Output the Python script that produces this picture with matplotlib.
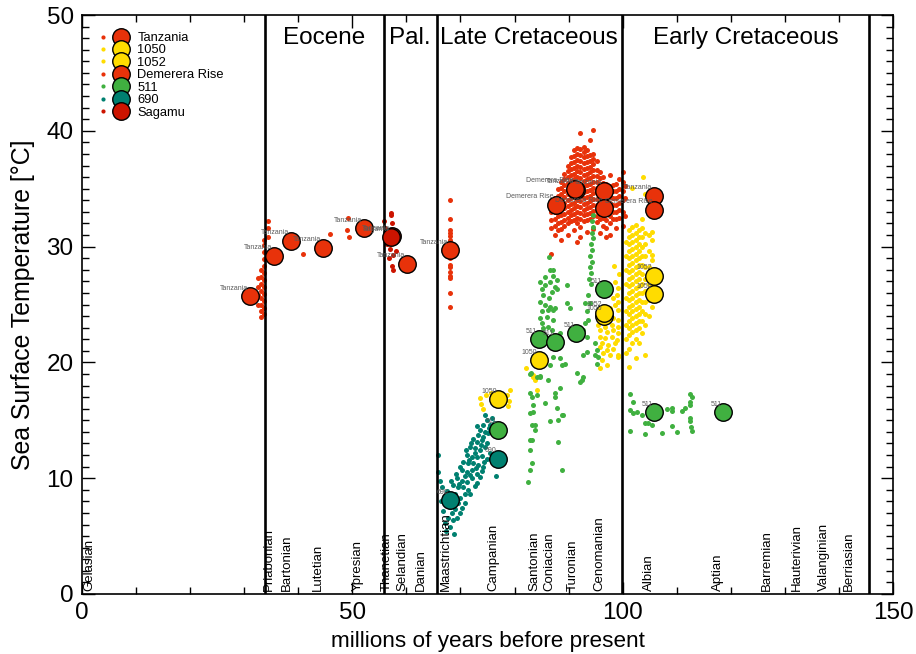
import matplotlib
matplotlib.use("Agg")
import matplotlib.pyplot as plt
from matplotlib.lines import Line2D
from matplotlib.legend_handler import HandlerTuple
from matplotlib.ticker import MultipleLocator

plt.rcParams['font.family'] = ['Liberation Sans', 'DejaVu Sans']

# ---------------------------------------------------------------- sites
sites = ["Tanzania", "1050", "1052", "Demerera Rise", "511", "690", "Sagamu"]
site_colors = {
    "Tanzania": "#e8320a",
    "1050": "#ffdc00",
    "1052": "#ffdc00",
    "Demerera Rise": "#e8320a",
    "511": "#40b040",
    "690": "#008070",
    "Sagamu": "#cc1400",
}

# ---------------------------------------------------------------- time scale
epoch_bounds = [33.9, 55.8, 65.6, 99.8, 145.6]
epoch_names = ["Eocene", "Pal.", "Late Cretaceous", "Early Cretaceous"]
stage_names = ["Gelasian", "Priabonian", "Bartonian", "Lutetian", "Ypresian",
               "Thanetian", "Selandian", "Danian", "Maastrichtian", "Campanian",
               "Santonian", "Coniacian", "Turonian", "Cenomanian", "Albian",
               "Aptian", "Barremian", "Hauterivian", "Valanginian", "Berriasian"]
stage_ages = [1.3, 34.6, 37.9, 43.6, 51.0, 56.4, 59.2, 62.7, 67.3, 76.0,
              83.7, 86.5, 90.7, 95.6, 104.8, 117.6, 126.6, 132.3, 137.3, 141.8]

# ---------------------------------------------------------------- stage means (large symbols)
mean_site = ["Tanzania", "Tanzania", "Tanzania", "Tanzania", "Tanzania", "Tanzania",
             "Tanzania", "Tanzania", "Tanzania", "Tanzania", "Tanzania",
             "Demerera Rise", "Demerera Rise", "Demerera Rise", "Demerera Rise",
             "1050", "1050", "1050", "1050", "1052", "1052",
             "511", "511", "511", "511", "511", "511", "511",
             "690", "690", "Sagamu"]
mean_age = [31.1, 35.5, 38.7, 44.6, 52.2, 57.3, 60.1, 68.1, 91.4, 96.5, 105.8,
            87.6, 91.2, 96.5, 105.8,
            96.5, 105.8, 84.5, 77.0, 96.5, 105.8,
            96.5, 91.4, 84.5, 87.5, 77.0, 105.8, 118.6,
            77.0, 68.1, 57.1]
mean_sst = [25.7, 29.2, 30.5, 29.9, 31.6, 30.9, 28.5, 29.7, 34.9, 34.8, 34.4,
            33.6, 35.0, 33.3, 33.2,
            24.0, 25.9, 20.2, 16.8, 24.3, 27.5,
            26.3, 22.5, 22.0, 21.8, 14.2, 15.7, 15.7,
            11.7, 8.1, 30.8]

# ---------------------------------------------------------------- individual samples
tanzania_cols = {
    32.5: [25.0, 25.8, 26.5, 27.3],
    33.1: [23.9, 24.4, 25.0, 25.6, 26.2, 26.8, 27.4, 28.0],
    33.7: [24.2, 24.7, 25.3, 25.9, 26.5, 27.1, 27.7, 28.3, 28.9, 29.5, 30.1, 30.6],
    34.4: [29.2, 30.8, 31.6, 32.2],
    40.9: [29.4],
    45.9: [31.1],
    49.0: [31.4],
    49.2: [32.5],
    49.4: [30.8],
    68.1: [34.0, 32.4, 31.4, 31.2, 30.9, 30.6, 29.0, 28.4, 28.2, 27.8, 27.5, 27.3, 26.0, 24.8],
}

sagamu_age = [55.8, 56.0, 57.2, 57.4, 57.2, 56.9, 57.6, 57.0, 57.5, 56.8, 57.3, 57.6,
              56.5, 58.0, 57.8, 57.1]
sagamu_sst = [32.2, 31.6, 32.7, 32.0, 31.4, 31.0, 30.6, 29.8, 29.3, 29.0, 28.3, 28.0,
              30.2, 29.6, 31.2, 32.9]

demerara_cols = {
    86.8: [29.4, 31.6, 32.3, 33.0, 33.5],
    87.4: [31.0, 31.8, 32.4, 33.0, 33.6, 34.2],
    88.0: [31.4, 32.0, 32.6, 33.2, 33.8, 34.4, 35.0],
    88.6: [30.6, 31.5, 32.1, 32.7, 33.3, 33.9, 34.5, 35.1, 35.6],
    89.2: [31.8, 32.3, 32.8, 33.3, 33.8, 34.3, 34.8, 35.3, 35.8, 36.3],
    89.8: [31.0, 32.0, 32.5, 33.0, 33.5, 34.0, 34.5, 35.0, 35.5, 36.0, 36.5, 37.0],
    90.4: [32.2, 32.7, 33.2, 33.7, 34.2, 34.7, 35.2, 35.7, 36.2, 36.7, 37.2, 37.7],
    91.0: [31.4, 32.3, 32.8, 33.3, 33.8, 34.3, 34.8, 35.3, 35.8, 36.3, 36.8, 37.3, 37.8, 38.3],
    91.6: [30.4, 32.0, 32.5, 33.0, 33.5, 34.0, 34.5, 35.0, 35.5, 36.0, 36.5, 37.0, 37.5, 38.0, 38.5],
    92.2: [30.8, 31.7, 32.4, 32.9, 33.4, 33.9, 34.4, 34.9, 35.4, 35.9, 36.4, 36.9, 37.4, 37.9, 38.4, 39.8],
    92.8: [32.2, 32.7, 33.2, 33.7, 34.2, 34.7, 35.2, 35.7, 36.2, 36.7, 37.2, 37.7, 38.2, 38.6],
    93.4: [31.3, 32.3, 32.8, 33.3, 33.8, 34.3, 34.8, 35.3, 35.8, 36.3, 36.8, 37.3, 37.8, 38.3],
    94.0: [32.4, 32.9, 33.4, 33.9, 34.4, 34.9, 35.4, 35.9, 36.4, 36.9, 37.4, 37.9, 39.2],
    94.6: [31.5, 32.6, 33.1, 33.6, 34.1, 34.6, 35.1, 35.6, 36.1, 36.6, 37.1, 37.6, 38.0, 40.1],
    95.2: [32.1, 32.6, 33.1, 33.6, 34.1, 34.6, 35.1, 35.6, 36.1, 36.6, 37.4],
    95.8: [31.2, 32.4, 32.9, 33.4, 33.9, 34.4, 34.9, 35.4, 35.9, 36.4],
    96.4: [31.8, 32.5, 33.0, 33.5, 34.0, 34.5, 35.0, 35.5, 36.0],
    97.0: [30.8, 31.6, 32.3, 32.9, 33.5, 34.0, 34.5, 35.0, 35.4],
    97.6: [31.0, 32.0, 32.6, 33.2, 33.8, 34.3, 34.8, 35.2, 36.2],
    98.2: [32.4, 33.0, 33.6, 34.2, 34.8, 35.3],
    98.8: [31.6, 32.4, 33.0, 33.6, 34.2, 34.8, 35.4],
    99.4: [32.5, 33.2, 33.8, 34.4, 35.0, 35.8],
    100.0: [31.8, 33.0, 34.0, 34.8, 35.6, 36.4],
    100.5: [32.6, 34.2, 35.2],
}

site1050_cols = {
    100.7: [20.8, 22.0, 23.2, 24.4, 25.6, 26.8, 28.0, 29.2, 30.4],
    101.2: [19.6, 21.2, 22.4, 23.0, 23.6, 24.2, 24.8, 25.4, 26.0, 26.6, 27.2, 27.8, 28.4,
            29.0, 29.6, 30.2, 30.8, 31.4],
    101.8: [21.7, 22.6, 23.2, 23.8, 24.4, 25.0, 25.6, 26.2, 26.8, 27.4, 28.0, 28.6, 29.2,
            29.8, 30.4, 31.0, 31.7, 35.1],
    102.4: [20.4, 22.0, 22.8, 23.4, 24.0, 24.6, 25.2, 25.8, 26.4, 27.0, 27.6, 28.2, 28.8,
            29.4, 30.0, 30.6, 31.2, 31.9],
    103.0: [21.7, 23.0, 23.6, 24.2, 24.8, 25.4, 26.0, 26.6, 27.2, 27.8, 28.4, 29.0, 29.6,
            30.2, 30.8, 31.4],
    103.6: [22.5, 23.6, 24.4, 25.2, 26.0, 26.8, 27.6, 28.4, 29.2, 30.0, 30.8, 31.6, 32.4],
    103.8: [36.0],
    104.2: [20.6, 23.2, 24.2, 25.2, 26.2, 27.2, 28.2, 29.2, 30.2, 31.2, 34.5],
    104.8: [24.0, 25.4, 26.8, 28.2, 29.6, 31.0, 33.5],
    105.4: [24.8, 25.6, 27.1, 28.0, 28.8, 29.3, 30.6, 31.3],
}

site1052_age = [98.6, 99.1, 98.9, 98.2, 99.1, 98.6, 97.6, 99.1, 95.8, 97.1, 98.2, 99.1,
                95.4, 96.7, 98.0, 99.1, 95.8, 97.1, 98.2, 99.1, 95.8, 96.7, 98.0, 98.9,
                96.2, 97.3, 98.6, 95.8, 97.1, 98.2, 96.3, 97.6, 99.1, 96.2, 97.1, 95.8,
                99.1, 98.4, 99.3,
                73.7, 73.8, 74.2, 74.7, 75.6, 78.6, 79.0, 78.8, 79.2,
                83.4, 84.1, 82.1, 83.4, 83.8]
site1052_sst = [26.9, 26.4, 25.8, 25.6, 25.2, 25.0, 24.7, 24.5, 23.7, 23.7, 23.8, 23.7,
                23.2, 23.1, 23.2, 23.1, 22.8, 22.6, 22.8, 22.5, 22.2, 22.1, 22.2, 21.9,
                21.7, 21.5, 21.7, 21.3, 21.1, 21.2, 20.8, 20.6, 20.6, 20.2, 19.8, 19.5,
                20.5, 28.3, 27.6,
                16.9, 16.4, 16.0, 17.2, 17.4, 17.2, 16.7, 16.2, 17.6,
                18.9, 17.6, 19.5, 18.7, 18.5]

site511_age = [94.6, 94.4, 94.5, 94.3, 94.5, 94.2, 94.4, 94.0, 94.3, 93.9, 94.2, 93.8,
               94.1, 93.6, 93.0, 94.0, 93.4, 93.6, 93.0, 92.7, 93.4, 92.1, 94.9, 95.2,
               95.4, 95.2, 94.9, 93.4, 92.7, 92.5, 92.1, 91.5, 92.7, 90.3, 89.7,
               86.4, 86.6, 87.1, 85.7, 87.1, 87.8, 84.7, 85.7, 86.6, 87.5, 85.1, 86.9,
               87.8, 85.3, 86.4, 84.7, 85.7, 86.6, 87.5, 89.7, 85.1, 86.2, 87.1, 84.7,
               86.0, 87.1, 85.1, 86.2, 85.3, 86.9, 88.4, 86.6, 87.1, 88.4, 86.6, 88.8,
               89.3, 83.0, 84.7, 84.1,
               82.9, 84.7, 86.2, 82.9, 84.1, 85.6, 87.8, 82.9, 88.8, 86.6, 88.0, 83.2,
               83.8, 82.9, 88.0, 82.9, 83.2, 82.9, 88.8, 82.5, 83.2, 87.5, 87.5, 88.4,
               83.4, 83.4, 83.8, 89.0, 83.2,
               101.4, 101.9, 101.4, 101.9, 102.6, 103.6, 104.1, 104.7, 105.4, 101.4,
               104.1, 107.3, 108.2, 109.1, 109.1, 109.1, 110.0, 111.0, 111.5, 112.4,
               112.8, 112.4, 112.4, 112.4, 112.4, 112.6, 112.8]
site511_sst = [32.7, 32.2, 31.7, 31.2, 30.7, 30.2, 29.7, 29.2, 28.7, 28.2, 27.7, 27.2,
               26.8, 25.8, 25.1, 25.1, 24.4, 23.7, 23.4, 22.8, 22.2, 22.2, 21.7, 21.1,
               20.5, 19.9, 20.6, 20.9, 20.6, 18.5, 18.3, 19.1, 18.7, 24.7, 26.7,
               29.1, 28.0, 28.0, 27.4, 27.5, 27.1, 26.9, 26.7, 26.9, 26.5, 26.3, 26.1,
               26.3, 25.8, 25.6, 25.2, 25.0, 24.8, 24.7, 25.1, 24.4, 24.5, 24.5, 23.8,
               23.9, 23.7, 23.4, 23.1, 23.0, 22.8, 22.5, 22.2, 20.5, 20.4, 19.8, 19.8,
               19.9, 19.1, 18.7, 18.7,
               19.0, 18.8, 18.5, 17.4, 17.2, 16.5, 16.1, 15.6, 15.5, 14.9, 15.0, 14.6,
               14.2, 13.3, 13.1, 12.4, 11.3, 10.7, 10.7, 9.7, 17.0, 17.4, 17.0, 17.8,
               16.3, 15.7, 14.6, 15.5, 13.3,
               17.3, 16.6, 15.9, 15.6, 15.7, 15.5, 14.8, 14.8, 14.6, 14.1,
               13.8, 13.9, 16.0, 16.1, 15.8, 14.5, 14.0, 15.8, 16.1, 17.3,
               17.0, 16.6, 16.3, 15.2, 14.9, 14.4, 14.1]

site690_age = [74.9, 75.8, 74.2, 73.6, 74.5, 76.0, 73.2, 74.2, 75.1, 73.1, 74.0, 74.9,
               71.8, 72.7, 73.6, 74.5, 71.2, 72.1, 73.1, 74.0, 74.9, 70.5, 71.4, 72.3,
               73.2, 74.2, 70.3, 71.2, 72.1, 73.1, 73.6, 69.4, 70.3, 71.2, 72.1, 73.1,
               68.6, 69.5, 70.5, 71.4, 66.2, 66.6, 65.8, 65.8, 76.6, 68.1, 69.0, 69.9,
               67.7, 68.6, 67.1, 68.1, 69.4, 70.3,
               72.6, 73.8, 71.6, 72.8, 70.8, 71.8, 69.8, 70.9, 69.0, 67.6, 67.2, 68.4,
               69.6, 70.0, 66.8, 67.4, 68.8, 75.5, 76.2, 74.6, 75.2, 73.0, 72.4, 71.0,
               72.0, 70.0, 69.2, 68.2, 67.0, 66.4, 75.4, 74.4, 73.9, 72.6, 71.8, 70.8]
site690_sst = [15.0, 15.2, 14.6, 14.2, 14.0, 14.2, 13.7, 13.6, 13.9, 13.1, 13.3, 13.0,
               12.7, 12.6, 12.4, 12.7, 12.0, 11.8, 11.8, 11.9, 11.7, 11.4, 11.3, 11.3,
               11.1, 11.0, 10.7, 10.5, 10.7, 10.4, 10.1, 10.0, 9.8, 9.7, 10.0, 9.6,
               9.4, 9.2, 9.2, 9.0, 9.8, 9.2, 10.5, 12.0, 10.2, 7.5, 7.3, 7.0,
               6.6, 6.4, 6.1, 5.8, 6.6, 7.4,
               12.2, 12.9, 11.6, 10.9, 10.2, 10.3, 9.5, 8.6, 8.6, 8.9, 7.8, 7.0,
               7.9, 8.3, 7.2, 5.4, 5.2, 14.6, 14.8, 15.5, 14.3, 14.5, 13.4, 12.4,
               13.0, 11.0, 10.4, 9.8, 8.4, 8.0, 12.2, 11.4, 10.6, 9.3, 8.6, 7.9]


def flatten(cols):
    ages, temps = [], []
    for a, ts in cols.items():
        ages += [a] * len(ts)
        temps += ts
    return ages, temps


samples = {
    "Tanzania": flatten(tanzania_cols),
    "1050": flatten(site1050_cols),
    "1052": (site1052_age, site1052_sst),
    "Demerera Rise": flatten(demerara_cols),
    "511": (site511_age, site511_sst),
    "690": (site690_age, site690_sst),
    "Sagamu": (sagamu_age, sagamu_sst),
}

# ---------------------------------------------------------------- figure
fig = plt.figure(figsize=(9.16, 6.54), dpi=100)
ax = fig.add_axes([82 / 916, 60 / 654, 811 / 916, 579 / 654])
ax.set_xlim(0, 150)
ax.set_ylim(0, 50)

small_ms = 3.6
big_ms = 12.6

for s in sites:
    a, t = samples[s]
    ax.plot(a, t, ls='none', marker='o', ms=small_ms, mew=0,
            color=site_colors[s], zorder=2)

for b in epoch_bounds:
    ax.axvline(b, color='black', lw=1.9, zorder=3)

for s, a, t in zip(mean_site, mean_age, mean_sst):
    ax.plot([a], [t], ls='none', marker='o', ms=big_ms, mfc=site_colors[s],
            mec='black', mew=1.0, zorder=4)
for s, a, t in zip(mean_site, mean_age, mean_sst):
    ax.annotate(s, (a, t), xytext=(-1.2, 5.8), textcoords='offset points',
                ha='right', va='center', fontsize=5, color='#5a5a5a', zorder=5)

for i, name in enumerate(epoch_names):
    mid = 0.5 * (epoch_bounds[i] + epoch_bounds[i + 1])
    ax.text(mid, 48.0, name, ha='center', va='center', fontsize=17.5)

for name, a in zip(stage_names, stage_ages):
    ax.text(a, 0.25, name, rotation=90, ha='center', va='bottom', fontsize=9.5)

ax.xaxis.set_major_locator(MultipleLocator(50))
ax.xaxis.set_minor_locator(MultipleLocator(10))
ax.yaxis.set_major_locator(MultipleLocator(10))
ax.yaxis.set_minor_locator(MultipleLocator(1))
ax.tick_params(which='both', direction='in', top=True, right=True, width=1.0)
ax.tick_params(which='major', length=9, labelsize=17.5, pad=6)
ax.tick_params(which='minor', length=5)
for sp in ax.spines.values():
    sp.set_linewidth(1.2)

ax.set_xlabel("millions of years before present", fontsize=16.2, labelpad=5)
ax.set_ylabel("Sea Surface Temperature [°C]", fontsize=17.9, labelpad=8)

handles = []
for s in sites:
    c = site_colors[s]
    handles.append((Line2D([], [], ls='none', marker='o', ms=3.0, mew=0, color=c),
                    Line2D([], [], ls='none', marker='o', ms=big_ms, mfc=c,
                           mec='black', mew=1.0)))
ax.legend(handles, sites, handler_map={tuple: HandlerTuple(ndivide=None, pad=0)},
          loc='upper left', bbox_to_anchor=(12 / 811, 1 - 17 / 579),
          frameon=False, fontsize=9.3, labelspacing=0.03, handlelength=2.8,
          handletextpad=0.55, borderpad=0, borderaxespad=0)

fig.savefig("out.png", dpi=100)
